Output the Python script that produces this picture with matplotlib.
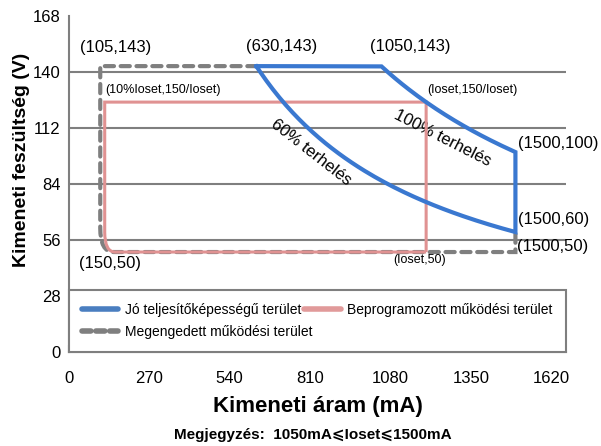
import numpy as np
import matplotlib.pyplot as plt
from matplotlib.path import Path
from matplotlib.patches import PathPatch
from matplotlib.lines import Line2D

plt.rcParams['font.family'] = ['Liberation Sans', 'DejaVu Sans']

# tengelyek
x_ticks = [0, 270, 540, 810, 1080, 1350, 1620]
y_ticks = [0, 28, 56, 84, 112, 140, 168]

# jo teljesitokepessegu terulet (kimeneti teljesitmeny, W)
p_full = 150
p_60 = 90
i_min_60 = 630
i_knee = 1050
i_max = 1500
v_max = 143

# beprogramozott terulet
ioset = 1200
v_min = 50

# megengedett terulet
grey_x = [105, 150, 1500, 1500]
grey_y = [143, 50, 50, 60]

blue = '#3a78d0'
pink = '#e09292'
grey = '#7f7f7f'

fig = plt.figure(figsize=(6.01, 4.46), dpi=100)
ax = fig.add_axes([0.1148, 0.2108, 0.827, 0.753])
ax.set_xlim(0, 1670)
ax.set_ylim(0, 168)

for y in y_ticks[1:-1]:
    ax.axhline(y, color=grey, lw=1.5, zorder=1)

# 100% es 60% terheles gorbek
i100 = np.linspace(i_knee, i_max, 60)
i60 = np.linspace(i_min_60, i_max, 80)
bx = np.concatenate([[i_min_60], i100, i60[::-1]])
by = np.concatenate([[v_max], p_full / (i100 / 1000), p_60 / (i60[::-1] / 1000)])
ax.plot(bx, by, color=blue, lw=3, solid_joinstyle='miter', zorder=4)

# megengedett (szaggatott) terulet, lekerekitett sarokkal
gx0, gtop = grey_x[0], grey_y[0]
gpath = Path([(i_min_60, gtop), (gx0, gtop), (gx0, v_min + 12),
              (gx0, v_min), (grey_x[1], v_min), (grey_x[2], v_min), (grey_x[3], grey_y[3])],
             [Path.MOVETO, Path.LINETO, Path.LINETO, Path.CURVE3, Path.CURVE3,
              Path.LINETO, Path.LINETO])
ax.add_patch(PathPatch(gpath, fill=False, edgecolor=grey, lw=3,
                       linestyle=(0, (2.2, 1.6)), capstyle='round', zorder=3))

# beprogramozott terulet
v_top = p_full / (ioset / 1000)
px0 = 0.1 * ioset
ppath = Path([(ioset, v_min), (ioset, v_top), (px0, v_top), (px0, v_min + 10),
              (px0, v_min), (px0 + 35, v_min), (ioset, v_min)],
             [Path.MOVETO, Path.LINETO, Path.LINETO, Path.LINETO, Path.CURVE3,
              Path.CURVE3, Path.LINETO])
ax.add_patch(PathPatch(ppath, fill=False, edgecolor=pink, lw=2.2, zorder=3.5))

for s in ['top', 'right']:
    ax.spines[s].set_visible(False)
for s in ['left', 'bottom']:
    ax.spines[s].set_color(grey)
    ax.spines[s].set_linewidth(1.5)

ax.set_xticks(x_ticks)
ax.set_yticks(y_ticks)
ax.tick_params(axis='x', direction='in', length=5, width=1.5, color=grey,
               labelsize=12, pad=14)
ax.tick_params(axis='y', length=0, labelsize=12, pad=6)

ax.set_xlabel('Kimeneti áram (mA)', fontsize=16, fontweight='bold')
ax.set_ylabel('Kimeneti feszültség (V)', fontsize=14, fontweight='bold')
ax.xaxis.set_label_coords(0.5, -0.13)
ax.yaxis.set_label_coords(-0.078, 0.571)

# pontok feliratai
fs = 12
ax.text(158, 152.5, '(105,143)', fontsize=fs, ha='center', va='center')
ax.text(714, 153, '(630,143)', fontsize=fs, ha='center', va='center')
ax.text(1145, 153, '(1050,143)', fontsize=fs, ha='center', va='center')
ax.text(121, 131, '(10%Ioset,150/Ioset)', fontsize=9, ha='left', va='center')
ax.text(1205, 131, '(Ioset,150/Ioset)', fontsize=9, ha='left', va='center')
ax.text(1508, 104.5, '(1500,100)', fontsize=fs, ha='left', va='center')
ax.text(1508, 66.5, '(1500,60)', fontsize=fs, ha='left', va='center')
ax.text(1506, 53, '(1500,50)', fontsize=fs, ha='left', va='center', zorder=6)
ax.text(34, 44.5, '(150,50)', fontsize=fs, ha='left', va='center')
ax.text(1088, 46, '(Ioset,50)', fontsize=9, ha='left', va='center')
ax.text(1256, 107, '100% terhelés', fontsize=12, ha='center', va='center',
        rotation=-27, rotation_mode='anchor')
ax.text(815, 100, '60% terhelés', fontsize=12, ha='center', va='center',
        rotation=-38, rotation_mode='anchor')

handles = [Line2D([], [], color='#4a7ec0', lw=4, solid_capstyle='round'),
           Line2D([], [], color=grey, lw=4, linestyle=(0, (1.6, 0.9)),
                  dash_capstyle='round'),
           Line2D([], [], color='#e19a9a', lw=4, solid_capstyle='round')]
labels = ['Jó teljesítőképességű terület', 'Megengedett működési terület',
          'Beprogramozott működési terület']
leg = ax.legend(handles, labels, loc='lower left', bbox_to_anchor=(0, 0, 1, 0.17),
                mode='expand', ncol=2, fontsize=10, frameon=True, fancybox=False,
                borderaxespad=0, handlelength=2.6, handletextpad=0.5,
                labelspacing=0.55, borderpad=0.95, columnspacing=2.2)
leg.get_frame().set_edgecolor(grey)
leg.get_frame().set_linewidth(1.5)
leg.get_frame().set_alpha(1)
leg.set_zorder(10)

fig.text(0.52, 0.025, 'Megjegyzés:  1050mA⩽Ioset⩽1500mA', fontsize=11,
         fontweight='bold', ha='center', va='center')

fig.savefig('out.png', dpi=100)
